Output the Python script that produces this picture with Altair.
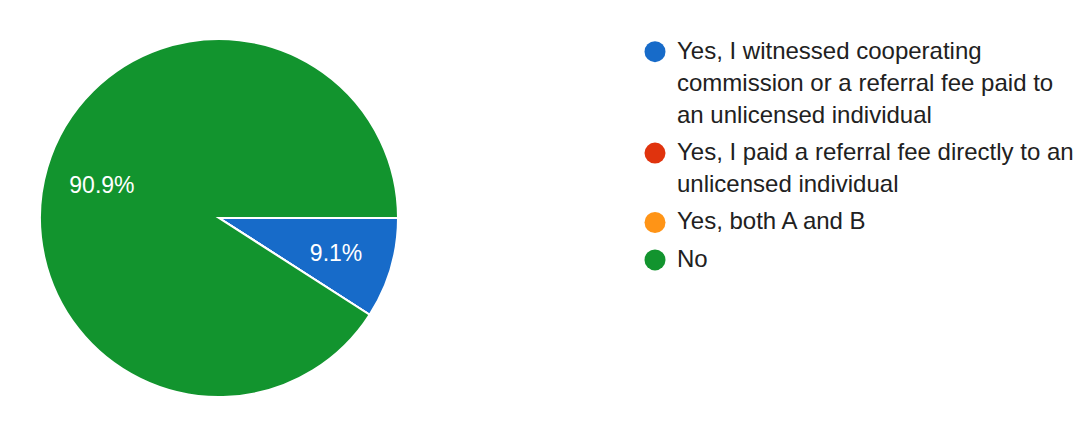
import math
import altair as alt
import pandas as pd

# ---- data ----
categories = [
    "Yes, I witnessed cooperating\ncommission or a referral fee paid to\nan unlicensed individual",
    "Yes, I paid a referral fee directly to an\nunlicensed individual",
    "Yes, both A and B",
    "No",
]
counts = [1, 0, 0, 10]
colors = ["#176bc9", "#e0330d", "#ff9416", "#12942e"]

names = [c.replace("\n", " ") for c in categories]
pie_df = pd.DataFrame({"answer": names, "count": counts, "idx": list(range(len(names)))})

# legend rows (one per wrapped text line)
GAP = 5.4 / 32
rows = []
lines_before = 0
for i, c in enumerate(categories):
    parts = c.split("\n")
    start = lines_before + GAP * i
    for j, p in enumerate(parts):
        rows.append({"answer": names[i], "line": p, "pos": start + j, "first": j == 0})
    lines_before += len(parts)
leg_df = pd.DataFrame(rows)

FONT = "Liberation Sans"
color_scale = alt.Scale(domain=names, range=colors)

theta = alt.Theta(
    "count:Q", stack=True,
    scale=alt.Scale(range=[math.pi / 2, math.pi / 2 + 2 * math.pi]),
)
base = alt.Chart(pie_df).encode(
    theta=theta,
    order=alt.Order("idx:Q"),
)
arcs = base.mark_arc(outerRadius=179, stroke="white", strokeWidth=2).encode(
    color=alt.Color("answer:N", scale=color_scale, legend=None)
)
pct_labels = (
    base.transform_joinaggregate(total="sum(count)")
    .transform_calculate(pct="datum.count / datum.total")
    .transform_filter("datum.count > 0")
    .mark_text(radius=122, font=FONT, fontSize=23, dy=2)
    .encode(text=alt.Text("pct:Q", format=".1%"), color=alt.value("white"))
)
pie = alt.layer(arcs, pct_labels).properties(width=422, height=394)

y = alt.Y(
    "pos:Q",
    scale=alt.Scale(domain=[-0.959, 11.353], reverse=True, nice=False, zero=False),
    axis=None,
)
leg_base = alt.Chart(leg_df).encode(y=y)
dots = (
    leg_base.transform_filter("datum.first")
    .mark_circle(size=440, opacity=1)
    .encode(x=alt.value(0), color=alt.Color("answer:N", scale=color_scale, legend=None))
)
texts = leg_base.mark_text(
    align="left", baseline="middle", dx=22, font=FONT, fontSize=24, color="#212121"
).encode(x=alt.value(0), text="line:N")
legend_panel = alt.layer(dots, texts).properties(width=400, height=394)

chart = (
    alt.hconcat(pie, legend_panel, spacing=225, bounds="flush")
    .properties(padding={"left": 0, "top": 13, "right": 0, "bottom": 0})
    .configure_view(stroke=None)
)

chart.save("out.html", embed_options={"renderer": "svg", "actions": False})
